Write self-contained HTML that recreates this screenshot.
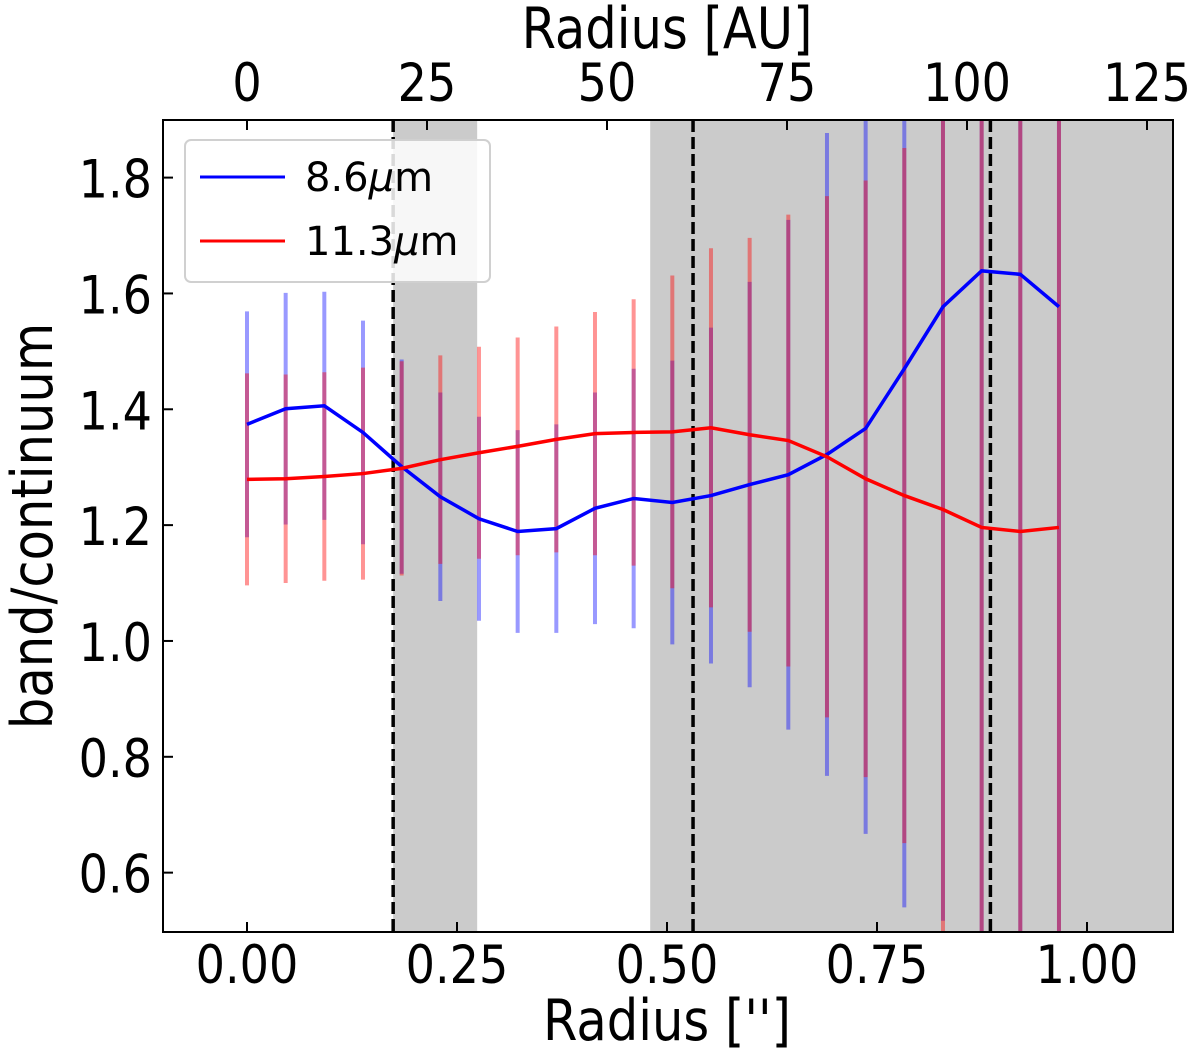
<!DOCTYPE html>
<html><head><meta charset="utf-8"><style>
html,body{margin:0;padding:0;background:#fff;overflow:hidden;width:1200px;height:1057px;}
svg{display:block;}
text{font-family:"DejaVu Sans","Liberation Sans",sans-serif;fill:#000;}
</style></head><body>
<svg id="chart" width="1200" height="1057" viewBox="0 0 1200 1057" xmlns="http://www.w3.org/2000/svg">
<g id="plot"></g>
</svg>
<script>
const radii = [0,1,2,3,4,5,6,7,8,9,10,11,12,13,14,15,16,17,18,19,20,21];
const radiusStep = 0.04603;
const blueValues = [1.374,1.401,1.406,1.360,1.301,1.249,1.211,1.189,1.194,1.229,1.246,1.239,1.251,1.270,1.287,1.322,1.367,1.470,1.577,1.639,1.633,1.577];
const blueErrors = [0.195,0.2,0.197,0.193,0.185,0.18,0.176,0.175,0.18,0.2,0.224,0.245,0.29,0.35,0.44,0.555,0.70,0.93,1.06,1.2,1.3,1.4];
const redValues = [1.279,1.280,1.284,1.289,1.298,1.313,1.325,1.336,1.348,1.358,1.360,1.361,1.368,1.356,1.346,1.318,1.280,1.251,1.227,1.196,1.189,1.196];
const redErrors = [0.183,0.18,0.18,0.183,0.185,0.18,0.183,0.188,0.195,0.21,0.23,0.27,0.31,0.34,0.39,0.45,0.515,0.6,0.75,0.9,1.0,1.1];
const xTicks = [0.0,0.25,0.5,0.75,1.0];
const xTickLabels = ["0.00","0.25","0.50","0.75","1.00"];
const yTicks = [0.6,0.8,1.0,1.2,1.4,1.6,1.8];
const yTickLabels = ["0.6","0.8","1.0","1.2","1.4","1.6","1.8"];
const auTicks = [0,25,50,75,100,125];
const auTickLabels = ["0","25","50","75","100","125"];
const shadedRegions = [[0.174,0.274],[0.48,1.2]];
const dashedLines = [0.174,0.531,0.885];

const NS="http://www.w3.org/2000/svg";
const L=163,R=1173,T=120,B=932;
const X=v=>247+840*v;
const Y=v=>177.6+(1.8-v)*579.2;
const XA=a=>247+7.2*a;
const root=document.getElementById('plot');
function mk(tag,attrs,parent){const e=document.createElementNS(NS,tag);for(const k in attrs)e.setAttribute(k,attrs[k]);(parent||root).appendChild(e);return e;}
function txt(s,x,y,size,anchor,parent,rot){
  const g=mk('g',{transform:`translate(${x},${y})`+(rot?` rotate(${rot})`:'')+' scale(0.87,1)'},parent);
  const t=mk('text',{x:0,y:0,'font-size':size,'text-anchor':anchor},g);t.textContent=s;return t;}

const clip=mk('clipPath',{id:'pc'});mk('rect',{x:L,y:T,width:R-L,height:B-T},clip);
const inner=mk('g',{'clip-path':'url(#pc)'});


shadedRegions.forEach(r=>{
  const e=mk('rect',{x:X(r[0]),y:T,width:X(r[1])-X(r[0]),height:B-T,fill:'#cbcbcb'},inner);
  
  
});
radii.forEach((i,k)=>{
  const x=X(i*radiusStep);
  const e=mk('line',{x1:x,x2:x,y1:Y(blueValues[k]+blueErrors[k]),y2:Y(blueValues[k]-blueErrors[k]),stroke:'#0000ff','stroke-opacity':0.4,'stroke-width':4},inner);
  
  
});
radii.forEach((i,k)=>{
  const x=X(i*radiusStep);
  const e=mk('line',{x1:x,x2:x,y1:Y(redValues[k]+redErrors[k]),y2:Y(redValues[k]-redErrors[k]),stroke:'#ff0000','stroke-opacity':0.42,'stroke-width':4},inner);
  
  
});
dashedLines.forEach(d=>{
  const e=mk('line',{x1:X(d),x2:X(d),y1:T,y2:B,stroke:'#000','stroke-width':3.5,'stroke-dasharray':'12,5'},inner);
  
  
});
const bl=mk('polyline',{points:radii.map((i,k)=>X(i*radiusStep)+','+Y(blueValues[k])).join(' '),fill:'none',stroke:'#0000ff','stroke-width':3.5},inner);


const rl=mk('polyline',{points:radii.map((i,k)=>X(i*radiusStep)+','+Y(redValues[k])).join(' '),fill:'none',stroke:'#ff0000','stroke-width':3.5},inner);



xTicks.forEach((v,k)=>{
  mk('line',{x1:X(v),x2:X(v),y1:B,y2:B-10,stroke:'#000','stroke-width':2});
  const t=txt(xTickLabels[k],X(v),983,53,'middle');
  
  
});
auTicks.forEach((a,k)=>{
  mk('line',{x1:XA(a),x2:XA(a),y1:T,y2:T+10,stroke:'#000','stroke-width':2});
  const t=txt(auTickLabels[k],XA(a),101,53,'middle');
  
  
});
yTicks.forEach((v,k)=>{
  mk('line',{x1:L,x2:L+10,y1:Y(v),y2:Y(v),stroke:'#000','stroke-width':2});
  const t=txt(yTickLabels[k],152,Y(v)+20,53,'end');
  
  
});
const fr=mk('rect',{x:L,y:T,width:R-L,height:B-T,fill:'none',stroke:'#000','stroke-width':2});



const xt=txt("Radius ['']",667,1040,57,'middle');


const tt=txt("Radius [AU]",667,48,57,'middle');


const yt=txt("band/continuum",52,526,57,'middle',null,-90);



const lg=mk('g',{});


mk('rect',{x:185,y:140,width:305,height:142,rx:6,fill:'#fff','fill-opacity':0.85,stroke:'#d0d0d0','stroke-width':2},lg);
const e1=mk('g',{},lg);


mk('line',{x1:200,x2:285,y1:177,y2:177,stroke:'#0000ff','stroke-width':3},e1);
const t1=mk('text',{x:305,y:191,'font-size':40},e1);
t1.innerHTML='8.6<tspan font-style="italic">μ</tspan>m';
const e2=mk('g',{},lg);


mk('line',{x1:200,x2:285,y1:241,y2:241,stroke:'#ff0000','stroke-width':3},e2);
const t2=mk('text',{x:305,y:255,'font-size':40},e2);
t2.innerHTML='11.3<tspan font-style="italic">μ</tspan>m';
</script>
</body></html>
